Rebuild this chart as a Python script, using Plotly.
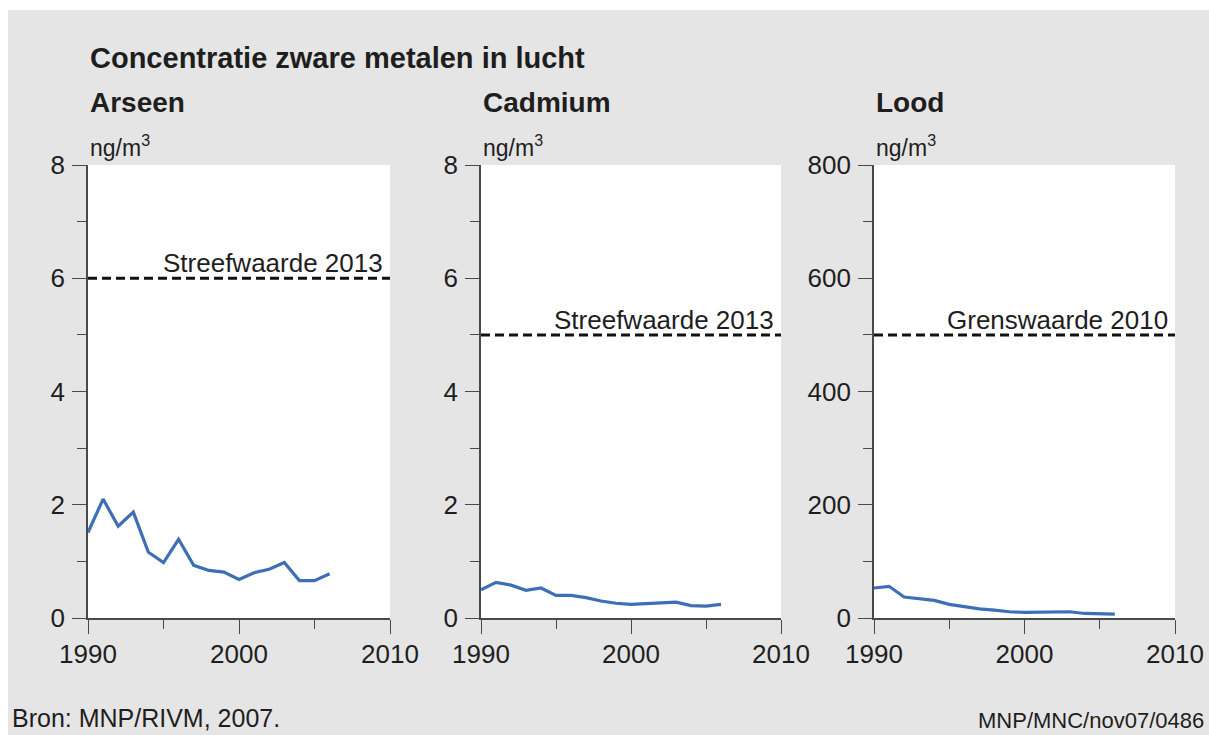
import plotly.graph_objects as go

# ---------------- data ----------------
years = list(range(1990, 2007))
arseen = [1.51, 2.10, 1.62, 1.87, 1.16, 0.98, 1.39, 0.93, 0.84, 0.81, 0.68, 0.80, 0.86, 0.98, 0.66, 0.66, 0.78]
cadmium = [0.50, 0.63, 0.58, 0.49, 0.53, 0.40, 0.40, 0.36, 0.30, 0.26, 0.24, 0.25, 0.27, 0.28, 0.22, 0.21, 0.24]
lood = [53, 56, 37, 34, 31, 24, 20, 16, 14, 11, 10, 10, 10, 11, 8, 7, 7]

panel_names = ["Arseen", "Cadmium", "Lood"]
panel_series = [arseen, cadmium, lood]
ref_values = [6, 5, 500]
ref_labels = ["Streefwaarde 2013", "Streefwaarde 2013", "Grenswaarde 2010"]
y_max = [8, 8, 800]
y_major = [2, 2, 200]
y_minor = [1, 1, 100]
x_range = [1990, 2010]

title_text = "Concentratie zware metalen in lucht"
unit_text = "ng/m<sup>3</sup>"
source_text = "Bron: MNP/RIVM, 2007."
code_text = "MNP/MNC/nov07/0486"

# ---------------- layout geometry ----------------
W, H = 1209, 735
FONT = "Liberation Sans, Arial, Helvetica, sans-serif"
TXT = "#1e1e1e"
AXC = "#4a4a4a"
LINEC = "#3d6fb6"
BG = "#e5e5e5"

x_px = [(88, 390), (481, 781), (874, 1175)]   # screen pixels
y_px = (165, 618)  # top, bottom (screen pixels)


def px_x(p):
    return p / W


def px_y(p):
    return 1 - p / H


fig = go.Figure()

for i in range(3):
    xa = "x" if i == 0 else f"x{i+1}"
    ya = "y" if i == 0 else f"y{i+1}"
    fig.add_trace(go.Scatter(
        x=x_range, y=[ref_values[i], ref_values[i]], mode="lines",
        line=dict(color="#111111", width=3, dash="9px,5px"),
        xaxis=xa, yaxis=ya, showlegend=False, hoverinfo="skip"))
    fig.add_trace(go.Scatter(
        x=years, y=panel_series[i], mode="lines",
        line=dict(color=LINEC, width=3.2),
        xaxis=xa, yaxis=ya, showlegend=False))

axis_common = dict(
    showline=True, linecolor=AXC, linewidth=1.6, showgrid=False, zeroline=False,
    ticks="outside", ticklen=14, tickwidth=1.4, tickcolor=AXC,
    tickfont=dict(family=FONT, size=26, color=TXT),
    fixedrange=True, automargin=False,
)

layout = dict(
    width=W, height=H,
    margin=dict(l=0, r=0, t=0, b=0, pad=0),
    paper_bgcolor=BG, plot_bgcolor="white",
    font=dict(family=FONT, color=TXT),
    showlegend=False,
)

for i in range(3):
    xk = "xaxis" if i == 0 else f"xaxis{i+1}"
    yk = "yaxis" if i == 0 else f"yaxis{i+1}"
    xa_anchor = "y" if i == 0 else f"y{i+1}"
    ya_anchor = "x" if i == 0 else f"x{i+1}"
    layout[xk] = dict(
        axis_common,
        domain=[px_x(x_px[i][0]), px_x(x_px[i][1])],
        range=x_range, dtick=10, tick0=1990, anchor=xa_anchor,
        minor=dict(dtick=5, ticks="outside", ticklen=9, tickwidth=1.4, tickcolor=AXC),
        ticklabelstandoff=-2,
    )
    layout[yk] = dict(
        axis_common,
        domain=[px_y(y_px[1]), px_y(y_px[0])],
        range=[0, y_max[i]], dtick=y_major[i], tick0=0, anchor=ya_anchor,
        minor=dict(dtick=y_minor[i], ticks="outside", ticklen=9, tickwidth=1.4, tickcolor=AXC),
        ticklabelstandoff=2,
    )

fig.update_layout(**layout)

annotations = []
annotations.append(dict(
    text=title_text, x=px_x(88), y=px_y(58), xref="paper", yref="paper",
    xanchor="left", yanchor="middle", showarrow=False,
    font=dict(family=FONT, size=29, color=TXT, weight="bold")))
for i in range(3):
    annotations.append(dict(
        text=panel_names[i], x=px_x(x_px[i][0]), y=px_y(103), xref="paper", yref="paper",
        xanchor="left", yanchor="middle", showarrow=False,
        font=dict(family=FONT, size=28, color=TXT, weight="bold")))
    annotations.append(dict(
        text=unit_text, x=px_x(x_px[i][0]), y=px_y(146), xref="paper", yref="paper",
        xanchor="left", yanchor="middle", showarrow=False,
        font=dict(family=FONT, size=23, color=TXT)))
    xa = "x" if i == 0 else f"x{i+1}"
    ya = "y" if i == 0 else f"y{i+1}"
    annotations.append(dict(
        text=ref_labels[i], x=x_range[1], y=ref_values[i], xref=xa, yref=ya,
        xanchor="right", yanchor="bottom", xshift=-5, yshift=-2, showarrow=False,
        font=dict(family=FONT, size=26, color=TXT)))

annotations.append(dict(
    text=source_text, x=px_x(10), y=px_y(718), xref="paper", yref="paper",
    xanchor="left", yanchor="middle", showarrow=False,
    font=dict(family=FONT, size=25, color=TXT)))
annotations.append(dict(
    text=code_text, x=px_x(1206), y=px_y(720), xref="paper", yref="paper",
    xanchor="right", yanchor="middle", showarrow=False,
    font=dict(family=FONT, size=22, color=TXT)))

fig.update_layout(annotations=annotations)

# white outer border (top and left) seen in the original image
fig.update_layout(shapes=[
    dict(type="rect", xref="paper", yref="paper", x0=0, x1=1, y0=px_y(10), y1=1,
         fillcolor="white", line=dict(width=0), layer="above"),
    dict(type="rect", xref="paper", yref="paper", x0=0, x1=px_x(8), y0=0, y1=1,
         fillcolor="white", line=dict(width=0), layer="above"),
])

fig.write_html(
    "out.html",
    config={"displayModeBar": False, "staticPlot": False},
    post_script=(
        "document.documentElement.style.margin='0';"
        "document.body.style.margin='0';"
        "document.documentElement.style.overflow='hidden';"
        "document.body.style.overflow='hidden';"
    ),
)
